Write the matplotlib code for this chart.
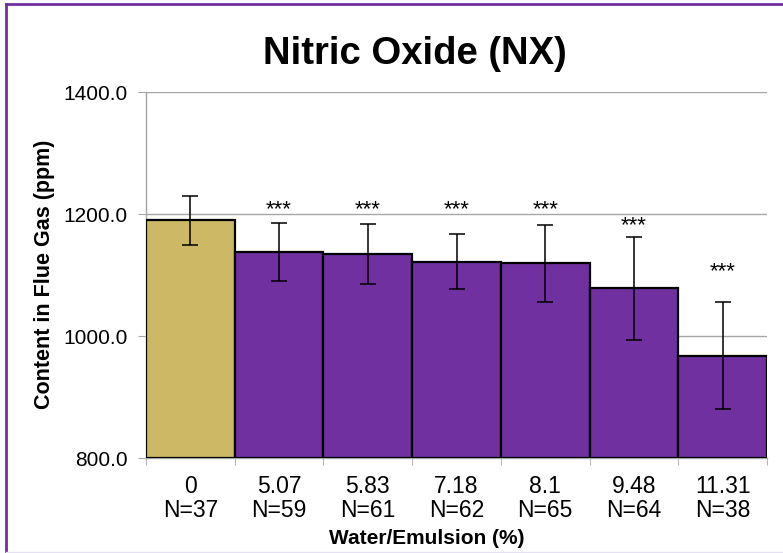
import matplotlib
matplotlib.use("Agg")
import matplotlib.pyplot as plt
from matplotlib.lines import Line2D

# ---------- DATA ----------
water_pct = ["0", "5.07", "5.83", "7.18", "8.1", "9.48", "11.31"]
n_samples = [37, 59, 61, 62, 65, 64, 38]
no_ppm = [1190, 1138, 1134, 1122, 1119, 1078, 968]
no_err = [40, 48, 49, 45, 63, 85, 88]
star_level = [None, 1216, 1216, 1216, 1216, 1190, 1115]
# --------------------------

GOLD = "#CDB866"
PURPLE = "#7030A0"
GRID = "#A6A6A6"

plt.rcParams["font.family"] = ["Liberation Sans", "DejaVu Sans"]

fig = plt.figure(figsize=(7.83, 5.53), dpi=100)
ax = fig.add_axes([146 / 783, 1 - 458 / 553, 621 / 783, 366 / 553])

x = list(range(len(no_ppm)))
colors = [GOLD] + [PURPLE] * (len(no_ppm) - 1)
ax.bar(x, [v - 800 for v in no_ppm], bottom=800, width=1.0, color=colors,
       edgecolor="black", linewidth=1.6, zorder=3)
ax.errorbar(x, no_ppm, yerr=no_err, fmt="none", ecolor="black",
            elinewidth=1.1, capsize=5.5, capthick=1.1, zorder=4)

for xi, lvl in zip(x, star_level):
    if lvl is not None:
        ax.annotate("***", (xi, lvl), xytext=(0, -4), textcoords="offset points",
                    ha="center", va="center", fontsize=16, zorder=5)

ax.set_xlim(-0.5, len(no_ppm) - 0.5)
ax.set_ylim(800, 1400)
ax.set_yticks([800, 1000, 1200, 1400])
ax.set_yticklabels([f"{v:.1f}" for v in [800, 1000, 1200, 1400]], fontsize=15)
ax.yaxis.grid(True, color=GRID, linewidth=1, zorder=0)
ax.set_axisbelow(True)

ax.set_xticks(x)
ax.set_xticklabels([f"{w}\nN={n}" for w, n in zip(water_pct, n_samples)],
                   fontsize=16.5, linespacing=1.08)
ax.set_xticks([i - 0.5 for i in range(len(no_ppm) + 1)], minor=True)
ax.tick_params(axis="x", which="major", length=0, pad=12)
ax.tick_params(axis="x", which="minor", length=5, color=GRID, direction="out")
ax.tick_params(axis="y", length=6, color=GRID, pad=7, direction="out")

for side in ["top", "right"]:
    ax.spines[side].set_visible(False)
for side in ["left", "bottom"]:
    ax.spines[side].set_color(GRID)
    ax.spines[side].set_linewidth(1)

fig.text(415 / 783, 1 - 54 / 553, "Nitric Oxide (NX)", fontsize=27.5,
         fontweight="bold", ha="center", va="center")
fig.text(45 / 783, 1 - 274 / 553, "Content in Flue Gas (ppm)", fontsize=15.5,
         fontweight="bold", rotation=90, ha="center", va="center")
fig.text(427 / 783, 1 - 538 / 553, "Water/Emulsion (%)", fontsize=15,
         fontweight="bold", ha="center", va="center")

# slide frame
fig.add_artist(Line2D([6 / 783, 6 / 783], [0, 1 - 4 / 553], color=PURPLE,
                      linewidth=2, transform=fig.transFigure))
fig.add_artist(Line2D([6 / 783, 1], [1 - 4 / 553, 1 - 4 / 553], color=PURPLE,
                      linewidth=2, transform=fig.transFigure))
fig.add_artist(Line2D([6 / 783, 1], [1 - 551.5 / 553, 1 - 551.5 / 553],
                      color="#E6E1F2", linewidth=1, transform=fig.transFigure))

fig.savefig("out.png", dpi=100)
